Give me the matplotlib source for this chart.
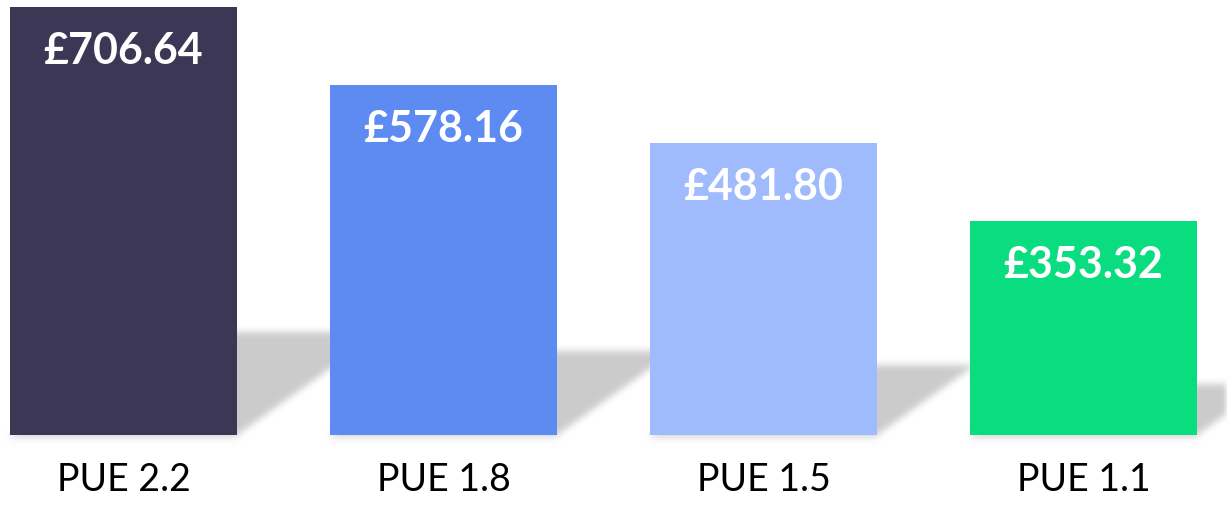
import matplotlib

matplotlib.use("Agg")

import matplotlib.pyplot as plt
import matplotlib.transforms as mtransforms
import numpy as np


categories = ["PUE 2.2", "PUE 1.8", "PUE 1.5", "PUE 1.1"]
costs = [706.64, 578.16, 481.80, 353.32]
colors = ["#3D3756", "#5E8BF2", "#9FBBFD", "#0ADD80"]


def box_blur(img: np.ndarray, k: int) -> np.ndarray:
    kern = np.ones(k) / k
    out = np.apply_along_axis(lambda r: np.convolve(r, kern, mode="same"), 1, img)
    out = np.apply_along_axis(lambda c: np.convolve(c, kern, mode="same"), 0, out)
    return out


def main() -> None:
    plt.rcParams["font.family"] = ["Lato", "DejaVu Sans"]
    W, H = 1227, 508
    fig = plt.figure(figsize=(W / 100, H / 100), dpi=100)
    ax = fig.add_axes([0, 0, 1, 1])
    xlim = (-0.386, 3.448)
    ylim = (-120.5, 718.2)
    ax.set_xlim(*xlim)
    ax.set_ylim(*ylim)
    ax.axis("off")

    x = np.arange(len(costs))
    width = 0.709
    ax.bar(x, costs, width=width, color=colors, zorder=3)

    # soft skewed shadow behind each bar
    yy, xx = np.mgrid[0:H, 0:W]
    ydisp = H - yy - 0.5
    xdisp = xx + 0.5
    mask = np.zeros((H, W))
    for xi, v in zip(x, costs):
        (x0, base), (x1, top) = ax.transData.transform([(xi - width / 2, 0), (xi + width / 2, v)])
        s = 0.24 * (top - base)
        h = ydisp - base
        shift = 1.4 * h
        inside = (h >= 0) & (h <= s) & (xdisp >= x0 + shift) & (xdisp <= x1 + shift)
        mask = np.maximum(mask, inside.astype(float))
        under = (h < 0) & (h > -4) & (xdisp >= x0) & (xdisp <= x1)
        mask = np.maximum(mask, under * 0.35)
    mask = box_blur(box_blur(mask, 9), 7)
    rgba = np.zeros((H, W, 4))
    rgba[..., :3] = 0.78
    rgba[..., 3] = mask * 0.9
    ax.imshow(rgba, extent=(*xlim, *ylim), origin="upper", aspect="auto", zorder=1, interpolation="bilinear")
    ax.set_xlim(*xlim)
    ax.set_ylim(*ylim)

    for xi, v in zip(x, costs):
        ax.annotate(f"£{v:.2f}", (xi, v), xytext=(0, -31.5), textcoords="offset points",
                    ha="center", va="center", color="white", fontsize=31, fontweight="bold", zorder=4)

    trans = mtransforms.blended_transform_factory(ax.transData, ax.transAxes)
    for xi, lab in zip(x, categories):
        ax.text(xi, 0.012 + 18 / H * 0.6, lab, transform=trans, ha="center", va="baseline",
                fontsize=27, color="black")

    fig.savefig("out.png", dpi=100)
    plt.close(fig)


if __name__ == "__main__":
    main()
